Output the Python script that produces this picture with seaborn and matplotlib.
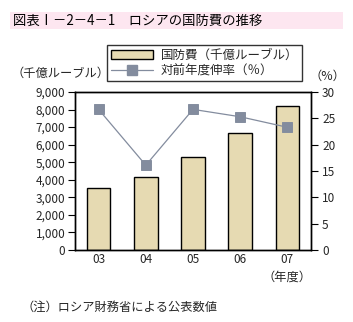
import matplotlib
matplotlib.use("Agg")
import matplotlib.pyplot as plt
import seaborn as sns
import pandas as pd
from matplotlib.patches import Patch, Rectangle
from matplotlib.lines import Line2D

sns.set_theme(style="white")
plt.rcParams['font.family'] = ['Noto Sans CJK JP', 'DejaVu Sans']

years = ["03", "04", "05", "06", "07"]
spending = [3560, 4150, 5300, 6670, 8230]      # 千億ルーブル
growth = [26.7, 16.1, 26.7, 25.3, 23.3]         # %
left_ticks = [0, 1000, 2000, 3000, 4000, 5000, 6000, 7000, 8000, 9000]
right_ticks = [0, 5, 10, 15, 20, 25, 30]

df = pd.DataFrame({"year": years, "spending": spending, "growth": growth})

bar_color = "#e6dab2"
line_color = "#838c9e"

fig = plt.figure(figsize=(3.53, 3.22), dpi=100)
fig.patch.set_facecolor("white")

# title band
fig.patches.append(Rectangle((10/353, 1-29/322), 333/353, 17/322,
                             transform=fig.transFigure, facecolor="#fde6f0",
                             edgecolor="none", zorder=0))
fig.text(13/353, 1-20.5/322, "図表Ⅰ－2－4－1　ロシアの国防費の推移",
         fontsize=9.6, va="center", ha="left", color="black")

ax = fig.add_axes([75/353, 1-250/322, 236/353, 158/322])
sns.barplot(data=df, x="year", y="spending", ax=ax, color=bar_color,
            edgecolor="black", linewidth=1, width=0.5, saturation=1)
ax.set_ylim(0, 9000)
ax.set_yticks(left_ticks)
ax.set_yticklabels([f"{v:,}" for v in left_ticks])
ax.set_xlim(-0.5, 4.5)
ax.set_xlabel("")
ax.set_ylabel("")

ax2 = ax.twinx()
sns.pointplot(data=df, x="year", y="growth", ax=ax2, color=line_color,
              markers="s", markersize=6.5, linewidth=0.9, native_scale=False)
ax2.set_ylim(0, 30)
ax2.set_yticks(right_ticks)
ax2.set_ylabel("")
ax2.set_xlim(-0.5, 4.5)

for a in (ax, ax2):
    for s in a.spines.values():
        s.set_color("black")
        s.set_linewidth(1)
ax.tick_params(axis="y", which="both", left=True, length=5, width=0.8,
               color="black", labelsize=8.5, pad=2)
ax.tick_params(axis="x", bottom=False, length=0, labelsize=8.5, pad=2)
ax2.tick_params(axis="y", right=True, length=5, width=0.8, color="black",
                labelsize=8.5, pad=3)

fig.text(12/353, 1-73/322, "（千億ルーブル）", fontsize=8.8, va="center", ha="left")
fig.text(327/353, 1-76/322, "（%）", fontsize=8.8, va="center", ha="center")
fig.text(287/353, 1-277/322, "（年度）", fontsize=8.8, va="center", ha="center")
fig.text(22/353, 1-307/322, "（注）ロシア財務省による公表数値", fontsize=8.8,
         va="center", ha="left")

handles = [Patch(facecolor=bar_color, edgecolor="black", linewidth=1),
           Line2D([0], [0], color=line_color, marker="s", markersize=6.5,
                  linewidth=0.9)]
labels = ["国防費（千億ルーブル）", "対前年度伸率（％）"]
leg = fig.legend(handles, labels, loc="upper left",
                 bbox_to_anchor=(107/353, 1-45/322), fontsize=9,
                 frameon=True, fancybox=False, edgecolor="black",
                 borderpad=0.3, labelspacing=0.2, handlelength=3.4,
                 handletextpad=0.6, borderaxespad=0)
leg.get_frame().set_linewidth(1)

fig.savefig("out.png", dpi=100)
